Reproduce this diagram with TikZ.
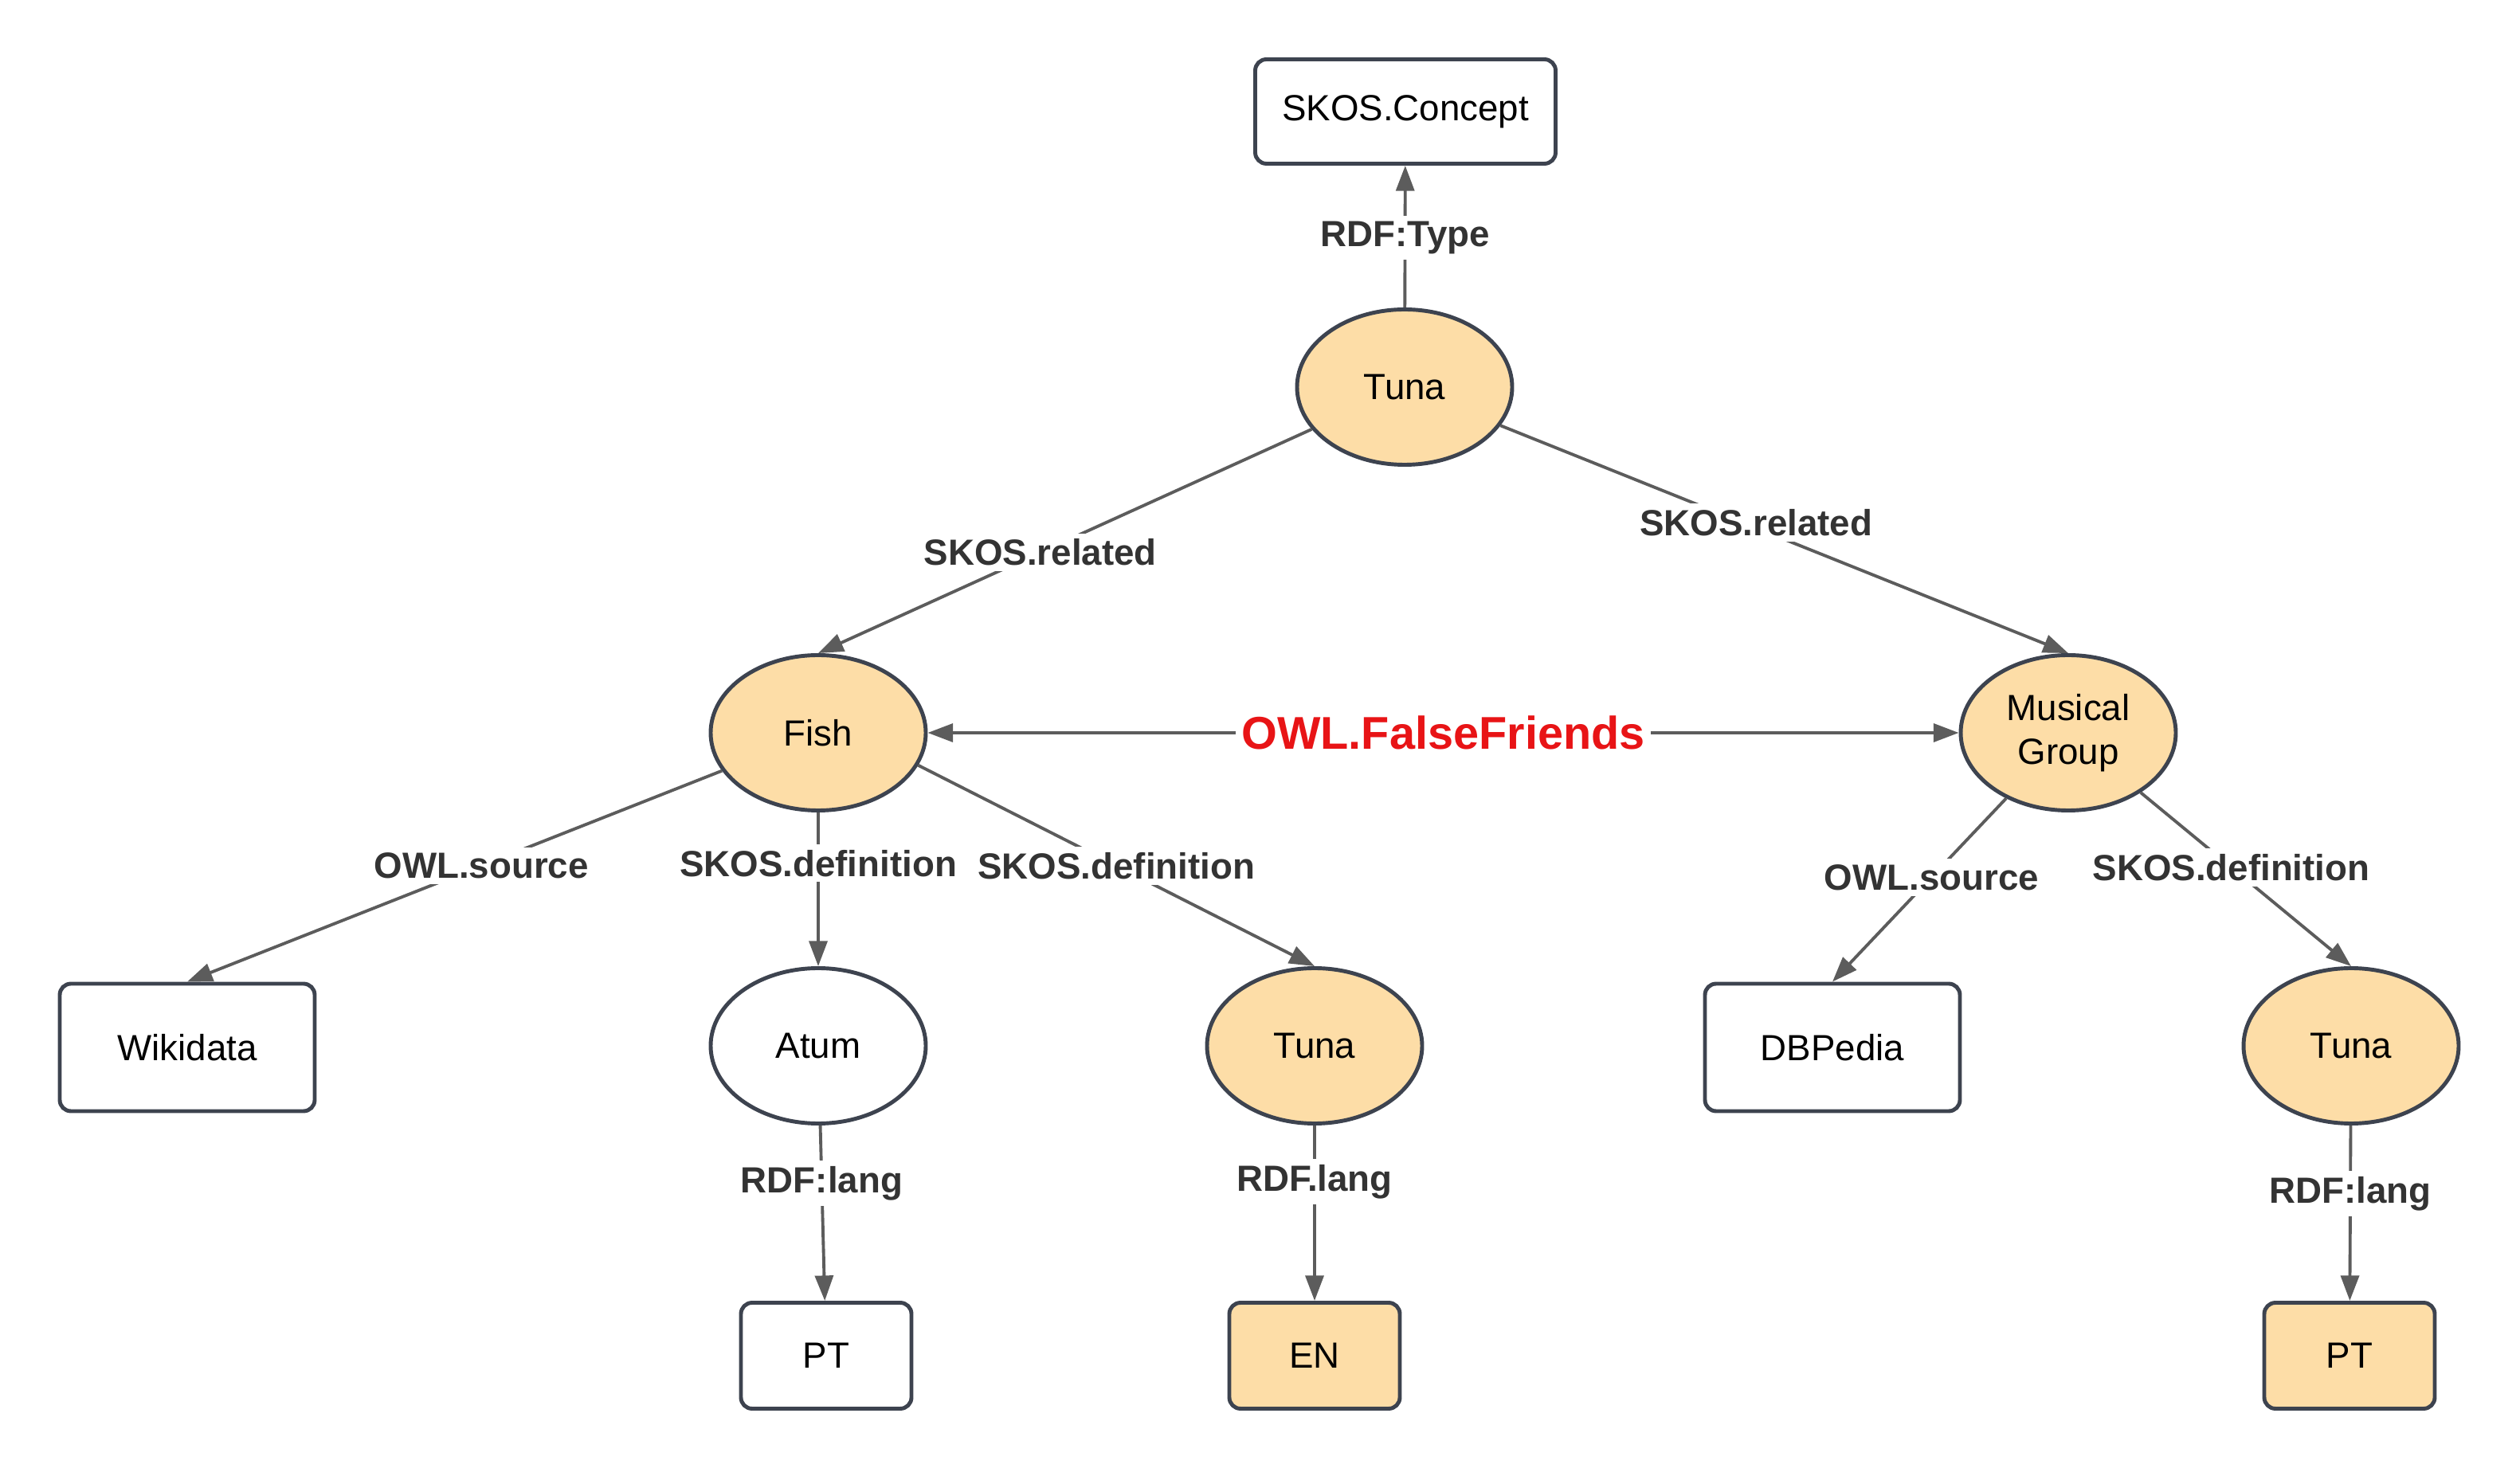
\documentclass[tikz,border=0pt]{standalone}
\usepackage{fontspec}
\setmainfont{Liberation Sans}
\usetikzlibrary{shapes.geometric,arrows.meta}
\definecolor{peach}{HTML}{FDDDA7}
\definecolor{rim}{HTML}{3D434F}
\definecolor{wire}{HTML}{5C5C5C}
\definecolor{ink}{HTML}{333333}
\definecolor{falsered}{HTML}{E81416}

\begin{document}
\begin{tikzpicture}
        \tikzset{every node/.style={font=\fontsize{13}{15.6}\selectfont},
            term/.style={draw=rim,line width=1.4pt,ellipse,minimum width=2.7cm,minimum height=1.95cm,inner sep=0pt,align=center},
            peachterm/.style={term,fill=peach},
            box/.style={draw=rim,line width=1.4pt,rectangle,rounded corners=4pt,minimum width=3.2cm,minimum height=1.6cm},
            langbox/.style={box,minimum width=2.14cm,minimum height=1.33cm},
            link/.style={draw=wire,line width=1.1pt,-{Triangle[length=9pt,width=6.5pt]}},
            rel/.style={fill=white,inner sep=2pt,text=ink,font=\fontsize{13}{15.6}\selectfont\bfseries}}
        \useasboundingbox (0,0) rectangle (31.63,-18.43);
        % top
        \node[box,minimum width=3.77cm,minimum height=1.31cm] (concept) at (17.64,-1.40) {SKOS.Concept};
        \node[peachterm] (tuna) at (17.63,-4.86) {Tuna};
        % second row
        \node[peachterm] (fish) at (10.27,-9.20) {Fish};
        \node[peachterm] (group) at (25.96,-9.20) {Musical\\Group};
        % third row
        \node[box] (wikidata) at (2.35,-13.15) {Wikidata};
        \node[term] (atum) at (10.27,-13.13) {Atum};
        \node[peachterm] (tunaen) at (16.50,-13.13) {Tuna};
        \node[box] (dbpedia) at (23.00,-13.15) {DBPedia};
        \node[peachterm] (tunapt) at (29.51,-13.13) {Tuna};
        % languages
        \node[langbox] (ptA) at (10.37,-17.02) {PT};
        \node[langbox,fill=peach] (en) at (16.50,-17.02) {EN};
        \node[langbox,fill=peach] (ptB) at (29.49,-17.02) {PT};
        % edges
        \draw[link] (tuna) -- node[rel,pos=0.49] {RDF:Type} (concept);
        \draw[link] (tuna) -- node[rel,pos=0.55] {SKOS.related} (fish.north);
        \draw[link] (tuna) -- node[rel,pos=0.45,yshift=2pt] {SKOS.related} (group.north);
        \draw[link,{Triangle[length=9pt,width=6.5pt]}-{Triangle[length=9pt,width=6.5pt]}] (fish) -- node[rel,text=falsered,font=\fontsize{16.4}{19}\selectfont\bfseries] {OWL.FalseFriends} (group);
        \draw[link] (fish) -- node[rel,pos=0.45] {OWL.source} (wikidata.north);
        \draw[link] (fish) -- node[rel,pos=0.33] {SKOS.definition} (atum);
        \draw[link] (fish.-18) -- node[rel,pos=0.5] {SKOS.definition} (tunaen.north);
        \draw[link] (group) -- node[rel,pos=0.43] {OWL.source} (dbpedia.north);
        \draw[link] (group) -- node[rel,pos=0.43] {SKOS.definition} (tunapt.north);
        \draw[link] (atum) -- node[rel,pos=0.33] {RDF:lang} (ptA);
        \draw[link] (tunaen) -- node[rel,pos=0.32] {RDF.lang} (en);
        \draw[link] (tunapt) -- node[rel,pos=0.39] {RDF:lang} (ptB);
\end{tikzpicture}
\end{document}
